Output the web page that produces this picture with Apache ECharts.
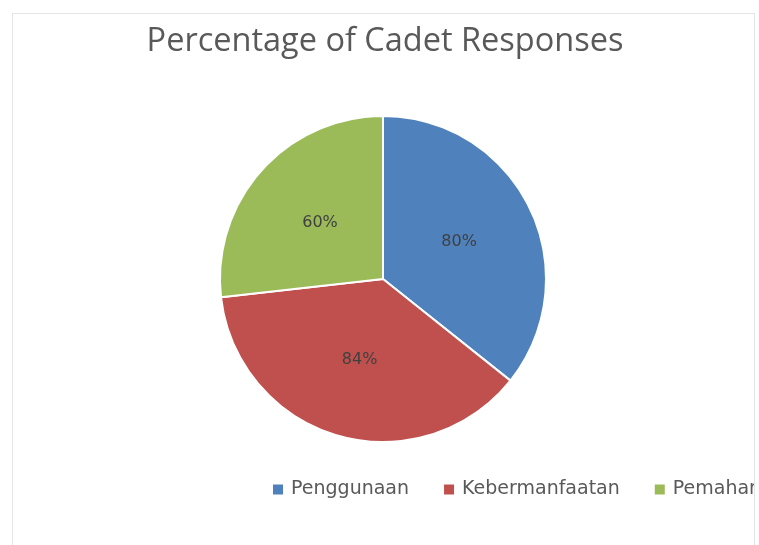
<!DOCTYPE html>
<html>
<head>
<meta charset="utf-8">
<script src="https://cdn.jsdelivr.net/npm/echarts@6/dist/echarts.min.js"></script>
<style>
html,body{margin:0;padding:0;background:#ffffff;width:759px;height:545px;overflow:hidden;}
#clip{position:absolute;left:12px;top:13px;width:741px;height:540px;border-left:1px solid #e4e4e4;border-top:1px solid #e4e4e4;border-right:1px solid #e4e4e4;overflow:hidden;background:#fff;}
#chart{position:absolute;left:-13px;top:-14px;width:900px;height:545px;}
</style>
</head>
<body>
<div id="clip"><div id="chart"></div></div>
<script>
var titleText = 'Percentage of Cadet Responses';
var categories = ['Penggunaan', 'Kebermanfaatan', 'Pemahaman'];
var values = [80, 84, 60];
var colors = ['#4f81bd', '#c0504d', '#9bbb59'];

var chart = echarts.init(document.getElementById('chart'), null, {renderer: 'canvas'});
chart.setOption({
  animation: false,
  backgroundColor: '#ffffff',
  color: colors,
  title: {
    text: titleText,
    left: 380,
    textAlign: 'center',
    top: 20,
    textStyle: {fontFamily: 'Open Sans', fontWeight: 'normal', fontSize: 32.5, color: '#595959'}
  },
  legend: {
    data: categories,
    left: 266,
    top: 475,
    orient: 'horizontal',
    icon: 'rect',
    itemWidth: 12,
    itemHeight: 12,
    itemGap: 33,
    textStyle: {fontFamily: 'DejaVu Sans', fontSize: 19, color: '#595959', padding: [0, 0, 0, 2]}
  },
  series: [{
    type: 'pie',
    center: [383, 279],
    radius: 163,
    startAngle: 90,
    clockwise: true,
    label: {
      show: true,
      position: 'inside',
      formatter: function (p) { return p.value + '%'; },
      fontFamily: 'DejaVu Sans',
      fontSize: 16,
      color: '#404040'
    },
    labelLine: {show: false},
    itemStyle: {borderColor: '#ffffff', borderWidth: 2},
    emphasis: {disabled: true},
    data: categories.map(function (c, i) { return {name: c, value: values[i]}; })
  }]
});
</script>
</body>
</html>
